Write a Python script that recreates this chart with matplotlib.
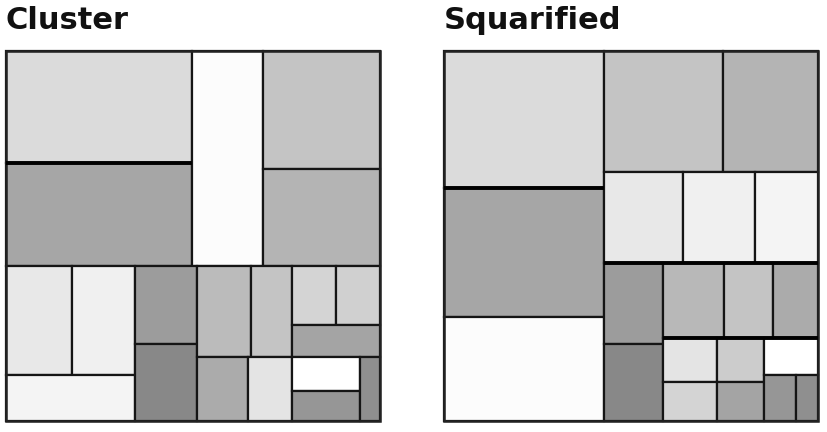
import matplotlib
matplotlib.use('Agg')
import matplotlib.pyplot as plt
from matplotlib.patches import Rectangle

# each treemap lives on a 0-100 square, y measured from the top
titles = ['Cluster', 'Squarified']

# cluster layout: x0, y0, x1, y1
cluster_x0 = [0, 0, 49.7, 68.7, 68.7, 0, 17.6, 0, 34.5, 34.5,
              51.1, 65.5, 51.1, 64.7, 76.5, 88.2, 76.5, 76.5, 76.5, 94.7]
cluster_y0 = [0, 30.3, 0, 0, 31.9, 58.1, 58.1, 87.6, 58.1, 79.2,
              58.1, 58.1, 82.7, 82.7, 58.1, 58.1, 74.1, 82.7, 91.9, 82.7]
cluster_x1 = [49.7, 49.7, 68.7, 100, 100, 17.6, 34.5, 34.5, 51.1, 51.1,
              65.5, 76.5, 64.7, 76.5, 88.2, 100, 100, 94.7, 94.7, 100]
cluster_y1 = [30.3, 58.1, 58.1, 31.9, 58.1, 87.6, 87.6, 100, 79.2, 100,
              82.7, 82.7, 100, 100, 74.1, 74.1, 82.7, 91.9, 100, 100]
cluster_gray = [219, 166, 252, 196, 180, 232, 240, 244, 156, 136,
                187, 196, 171, 228, 212, 208, 164, 255, 150, 143]
cluster_thick = [(0, 30.3, 49.7, 30.3)]

# squarified layout
squar_x0 = [0, 0, 0, 42.8, 74.6, 42.8, 63.9, 83.2, 42.8, 42.8,
            58.6, 74.9, 88.0, 58.6, 73.0, 85.6, 58.6, 73.0, 85.6, 94.1]
squar_y0 = [0, 37.0, 71.9, 0, 0, 32.7, 32.7, 32.7, 57.3, 79.2,
            57.3, 57.3, 57.3, 77.6, 77.6, 77.6, 89.5, 89.5, 87.6, 87.6]
squar_x1 = [42.8, 42.8, 42.8, 74.6, 100, 63.9, 83.2, 100, 58.6, 58.6,
            74.9, 88.0, 100, 73.0, 85.6, 100, 73.0, 85.6, 94.1, 100]
squar_y1 = [37.0, 71.9, 100, 32.7, 32.7, 57.3, 57.3, 57.3, 79.2, 100,
            77.6, 77.6, 77.6, 89.5, 89.5, 87.6, 100, 100, 100, 100]
squar_gray = [219, 166, 252, 196, 180, 232, 240, 244, 156, 136,
              184, 196, 171, 228, 204, 255, 212, 164, 150, 143]
squar_thick = [(0, 37.0, 42.8, 37.0), (42.8, 57.3, 100, 57.3),
               (58.6, 77.6, 100, 77.6)]

layouts = [
    (cluster_x0, cluster_y0, cluster_x1, cluster_y1, cluster_gray, cluster_thick),
    (squar_x0, squar_y0, squar_x1, squar_y1, squar_gray, squar_thick),
]

W, H = 828, 432
fig = plt.figure(figsize=(W / 100, H / 100), dpi=100)
fig.patch.set_facecolor('white')

# pixel boxes of the two treemaps: left, top, width, height
boxes = [(6, 51, 374, 370), (444, 51, 374, 370)]

for title, box, layout in zip(titles, boxes, layouts):
    left, top, bw, bh = box
    ax = fig.add_axes([left / W, 1 - (top + bh) / H, bw / W, bh / H])
    ax.set_xlim(0, 100)
    ax.set_ylim(100, 0)
    ax.axis('off')

    x0s, y0s, x1s, y1s, grays, thick = layout
    for x0, y0, x1, y1, g in zip(x0s, y0s, x1s, y1s, grays):
        c = '#%02x%02x%02x' % (g, g, g)
        ax.add_patch(Rectangle((x0, y0), x1 - x0, y1 - y0, facecolor=c,
                               edgecolor='#151515', linewidth=1.6,
                               clip_on=False))
    for xa, ya, xb, yb in thick:
        ax.plot([xa, xb], [ya, yb], color='black', linewidth=2.8,
                solid_capstyle='butt', clip_on=False)
    ax.add_patch(Rectangle((0, 0), 100, 100, fill=False,
                           edgecolor='#222222', linewidth=1.8, clip_on=False))

    fig.text(left / W, 1 - 29 / H, title, fontsize=22,
             fontweight='bold', family='DejaVu Sans', va='baseline',
             ha='left', color='#111111')

fig.savefig('out.png', dpi=100)
